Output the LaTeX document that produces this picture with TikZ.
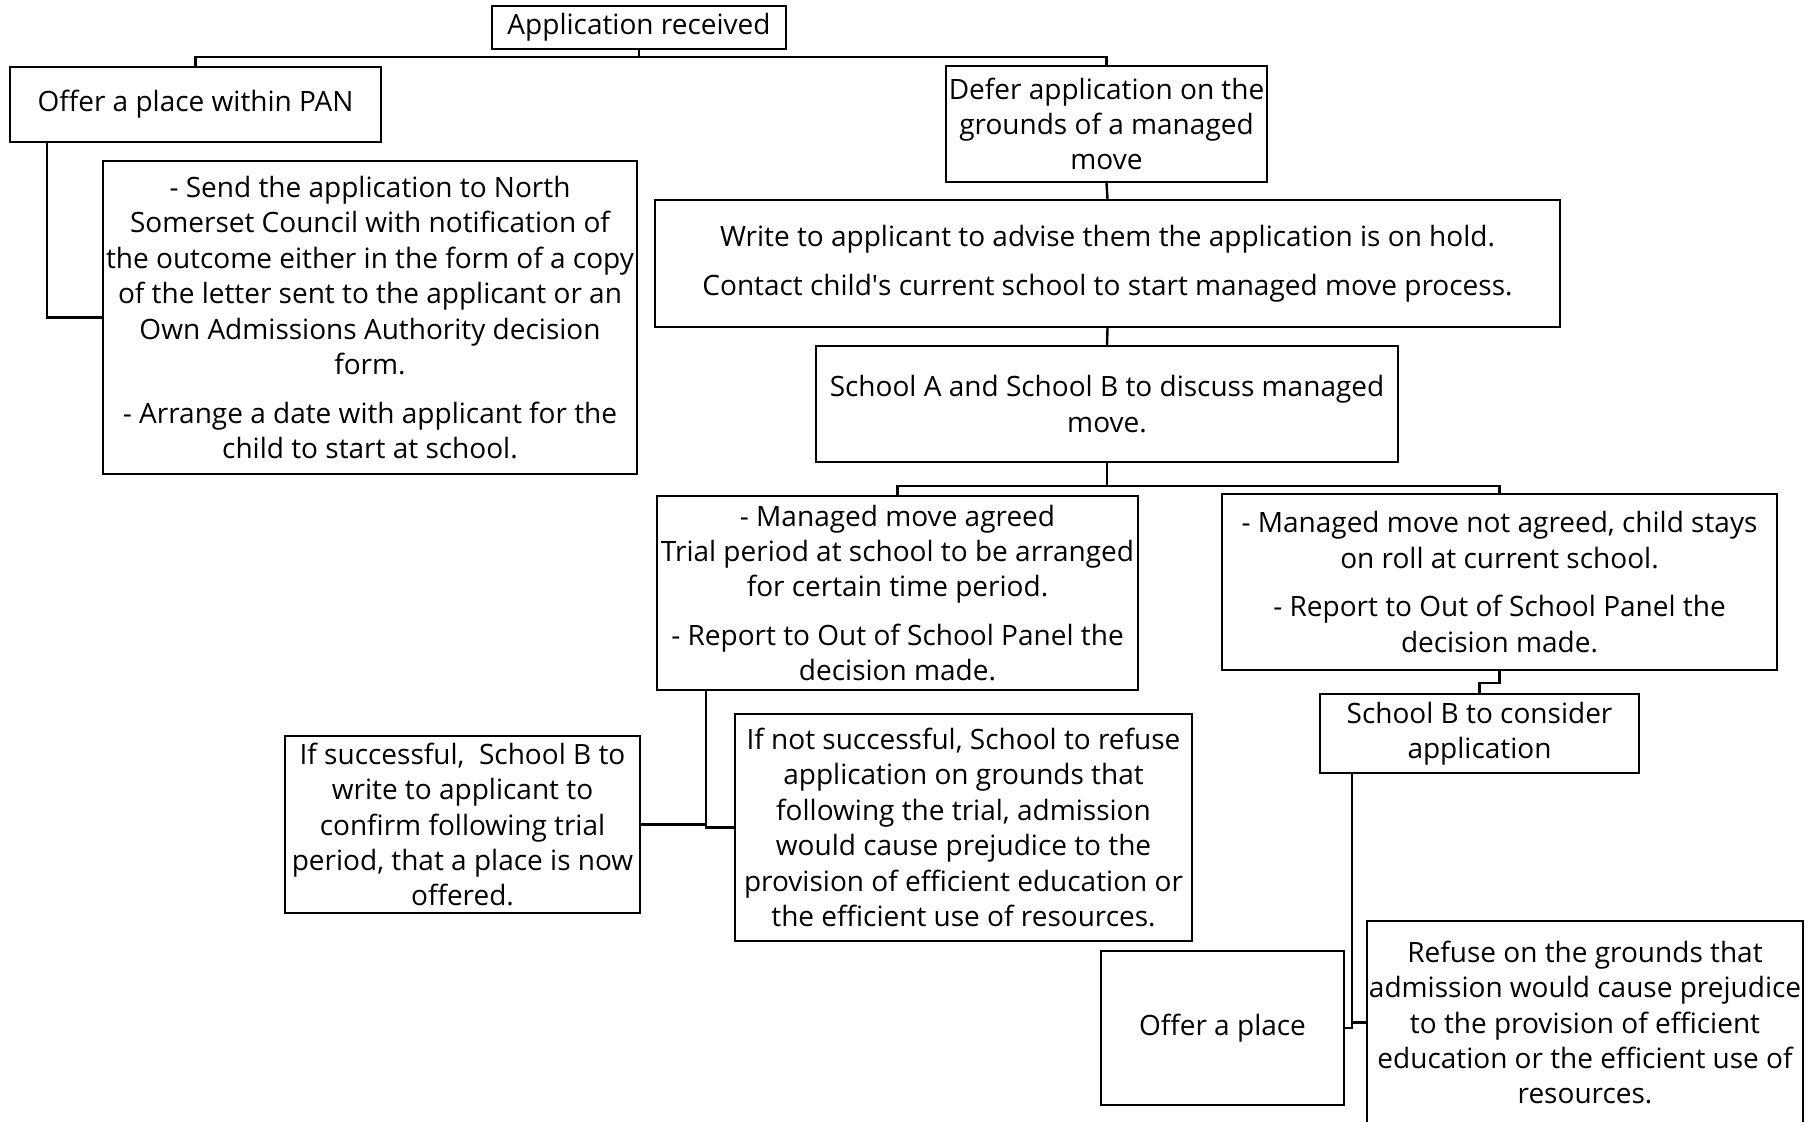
\documentclass[tikz,border=0pt]{standalone}
\usepackage{fontspec}
\setmainfont{Open Sans}
\usepackage{tikz}

\tikzset{
  flowbox/.style={draw, line width=1.2pt, inner sep=0pt, align=center,
    font=\fontsize{14}{17.7}\selectfont},
  wire/.style={line width=1.2pt}
}

\begin{document}
\begin{tikzpicture}[x=0.5pt, y=-0.5pt]
			\useasboundingbox (0,0) rectangle (1814,1121);
			\node[flowbox, minimum width=147pt, minimum height=21.5pt] (recv) at (639,27.5) {Application received};
			\node[flowbox, minimum width=185.5pt, minimum height=37.5pt] (pan) at (195.5,104.5) {Offer a place within PAN};
			\node[flowbox, minimum width=160.5pt, minimum height=58pt] (defer) at (1106.5,124) {Defer application on the\\grounds of a managed\\move};
			\node[flowbox, minimum width=267pt, minimum height=156.5pt] (send) at (370,317.5) {- Send the application to North\\Somerset Council with notification of\\the outcome either in the form of a copy\\of the letter sent to the applicant or an\\Own Admissions Authority decision\\form.\\[6.6pt] - Arrange a date with applicant for the\\child to start at school.};
			\node[flowbox, minimum width=452.5pt, minimum height=63.5pt] (write) at (1107.5,263.5) {Write to applicant to advise them the application is on hold.\\[6.6pt]Contact child\textquotesingle s current school to start managed move process.};
			\node[flowbox, minimum width=291pt, minimum height=58pt] (discuss) at (1107,404) {School A and School B to discuss managed\\move.};
			\node[flowbox, minimum width=240.5pt, minimum height=97pt] (agreed) at (897.5,593) {- Managed move agreed\\Trial period at school to be arranged\\for certain time period.\\[6.6pt]- Report to Out of School Panel the\\decision made.};
			\node[flowbox, minimum width=277.5pt, minimum height=88pt] (notagreed) at (1499.5,582) {- Managed move not agreed, child stays\\on roll at current school.\\[6.6pt]- Report to Out of School Panel the\\decision made.};
			\node[flowbox, minimum width=177.5pt, minimum height=88.5pt] (success) at (462.5,824.5) {If successful,\ \ School B to\\write to applicant to\\confirm following trial\\period, that a place is now\\offered.};
			\node[flowbox, minimum width=228.5pt, minimum height=113.5pt] (fail) at (963.5,827.5) {If not successful, School to refuse\\application on grounds that\\following the trial, admission\\would cause prejudice to the\\provision of efficient education or\\the efficient use of resources.};
			\node[flowbox, minimum width=159.5pt, minimum height=39.5pt] (consider) at (1479.5,733.5) {School B to consider\\application};
			\node[flowbox, minimum width=121.5pt, minimum height=77pt] (offer) at (1222.5,1028) {Offer a place};
			\node[flowbox, minimum width=218pt, minimum height=101.5pt] (refuse) at (1585,1022.5) {Refuse on the grounds that\\admission would cause prejudice\\to the provision of efficient\\education or the efficient use of\\resources.};
			\coordinate (split1) at (639,57);
			\coordinate (split2) at (1107,486);
			\coordinate (panleg) at (47,0);
			\coordinate (agreedleg) at (706,0);
			\coordinate (considerleg) at (1352,0);
			\draw[wire] (recv.south) -- (split1);
			\draw[wire] (pan.north) |- (split1) -| (defer.north);
			\draw[wire] (pan.south -| panleg) |- (send.west);
			\draw[wire] (defer.south) -- (write.north);
			\draw[wire] (write.south) -- (discuss.north);
			\draw[wire] (discuss.south) -- (split2);
			\draw[wire] (agreed.north) |- (split2) -| (notagreed.north);
			\draw[wire] (agreed.south -| agreedleg) |- (fail.west);
			\draw[wire] (success.east) -- (success.east -| agreedleg);
			\draw[wire] (notagreed.south) -- ++(0,12) -| (consider.north);
			\draw[wire] (consider.south -| considerleg) |- (offer.east);
			\draw[wire] (refuse.west) -- (refuse.west -| considerleg);
		\end{tikzpicture}
\end{document}
